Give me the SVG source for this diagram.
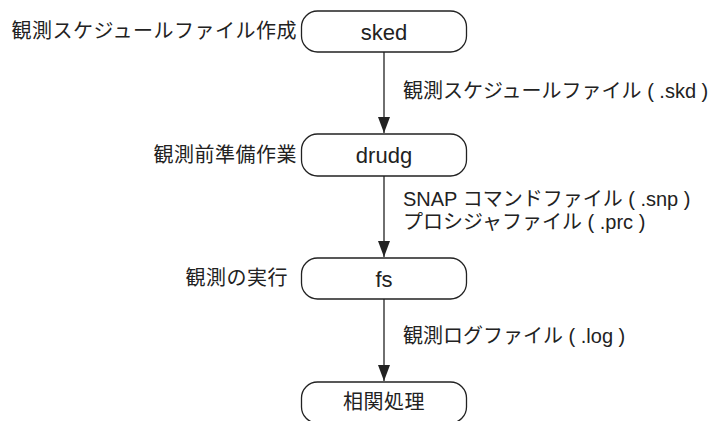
<svg xmlns="http://www.w3.org/2000/svg" width="715" height="421" viewBox="0 0 715 421">
<defs>
<style>
.node{fill:#fff;stroke:#222;stroke-width:1.3}
.nt{font-family:"Liberation Sans","Noto Sans CJK JP",sans-serif;font-size:22px;fill:#222;text-anchor:middle}
.nj{font-family:"Liberation Sans","Noto Sans CJK JP",sans-serif;font-size:20px;fill:#222;text-anchor:middle;letter-spacing:0.5px}
.ll{font-family:"Liberation Sans","Noto Sans CJK JP",sans-serif;font-size:20px;fill:#222;text-anchor:end;letter-spacing:0.5px}
.rl{font-family:"Liberation Sans","Noto Sans CJK JP",sans-serif;font-size:20px;fill:#222}
.edge{stroke:#222;stroke-width:1.3;fill:none}
</style>
<marker id="arr" viewBox="0 0 16 12" refX="16" refY="6" markerWidth="16" markerHeight="12" markerUnits="userSpaceOnUse" orient="auto">
<path d="M0,0 L16,6 L0,12 Z" fill="#222"/>
</marker>
</defs>
<g id="connectors">
<line class="edge" x1="384" y1="52" x2="384" y2="133" marker-end="url(#arr)"/>
<line class="edge" x1="384" y1="176" x2="384" y2="257" marker-end="url(#arr)"/>
<line class="edge" x1="384" y1="299" x2="384" y2="381" marker-end="url(#arr)"/>
<text class="rl" x="403" y="98">観測スケジュールファイル ( .skd )</text>
<text class="rl" x="403" y="206">SNAP コマンドファイル ( .snp )</text>
<text class="rl" x="403" y="229">プロシジャファイル ( .prc )</text>
<text class="rl" x="403" y="343">観測ログファイル ( .log )</text>
</g>
<g id="sked">
<rect class="node" x="301.5" y="11" width="165" height="41" rx="16"/>
<text class="nt" x="384" y="40">sked</text>
<text class="ll" x="297" y="38">観測スケジュールファイル作成</text>
</g>
<g id="drudg">
<rect class="node" x="301.5" y="134" width="165" height="42" rx="16"/>
<text class="nt" x="384" y="163">drudg</text>
<text class="ll" x="297" y="162">観測前準備作業</text>
</g>
<g id="fs">
<rect class="node" x="301.5" y="258" width="165" height="41" rx="16"/>
<text class="nt" x="384" y="287">fs</text>
<text class="ll" x="288" y="285">観測の実行</text>
</g>
<g id="correlation">
<rect class="node" x="301.5" y="382" width="165" height="41" rx="16"/>
<text class="nj" x="384" y="409">相関処理</text>
</g>
</svg>
